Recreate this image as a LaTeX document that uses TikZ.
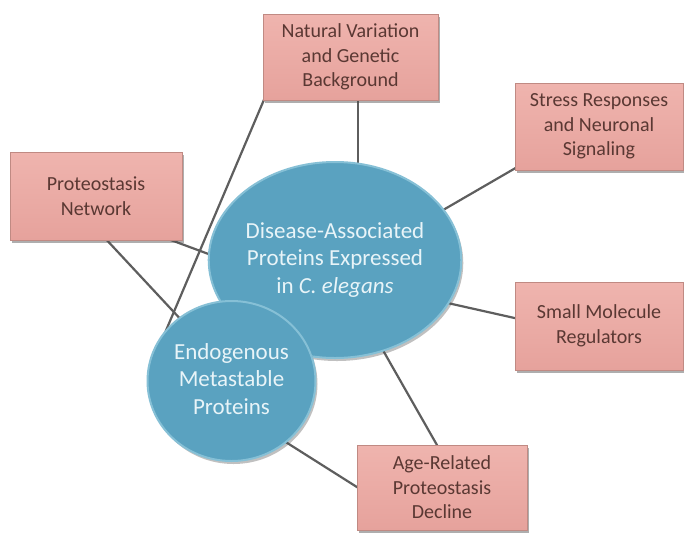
\documentclass[tikz,border=0pt]{standalone}
\usepackage{fontspec}
\setmainfont{Carlito}
\usetikzlibrary{shapes.geometric,shadows,calc,backgrounds}
\definecolor{boxfill}{HTML}{E6A29C}
\definecolor{boxtop}{HTML}{EFB4AE}
\definecolor{boxedge}{HTML}{C08A83}
\definecolor{boxtext}{HTML}{5A3833}
\definecolor{ballfill}{HTML}{5AA2C0}
\definecolor{balledge}{HTML}{86C0D6}
\definecolor{balltext}{HTML}{E8F4F8}
\definecolor{linkcol}{HTML}{5E5E5E}
\newcommand{\mylines}[2]{\raisebox{#1}{\begin{tabular}{@{}c@{}}#2\end{tabular}}}
\begin{document}
\begin{tikzpicture}[x=1pt,y=-1pt,
  box/.style={rectangle, draw=boxedge, line width=1pt, top color=boxtop, bottom color=boxfill,
    text=boxtext, align=center, font=\fontsize{20}{24.5}\selectfont, inner sep=0pt,
    drop shadow={shadow xshift=2pt, shadow yshift=-3pt, opacity=0.45, fill=black!70}},
  ball/.style={ellipse, draw=balledge, line width=2pt, fill=ballfill, text=balltext,
    font=\fontsize{23}{27.5}\selectfont, inner sep=0pt,
    drop shadow={shadow xshift=2pt, shadow yshift=-3pt, opacity=0.35, fill=black!70}},
  link/.style={draw=linkcol, line width=2.2pt}]
\useasboundingbox (0,0) rectangle (684,533);

% circles
\node[ball, minimum width=244pt, minimum height=196pt] (big) at (335,260)
  {\mylines{9pt}{Disease-Associated\\Proteins Expressed\\in \textit{C. elegans}}};
\node[ball, minimum width=168pt, minimum height=160pt] (small) at (231.5,381)
  {\mylines{-6pt}{Endogenous\\Metastable\\Proteins}};

% boxes
\node[box, minimum width=175pt, minimum height=86pt] (nat) at (350.5,57)
  {Natural Variation\\and Genetic\\Background};
\node[box, minimum width=168pt, minimum height=87pt] (stress) at (599,126.5)
  {Stress Responses\\and Neuronal\\Signaling};
\node[box, minimum width=172pt, minimum height=88pt] (prot) at (96,196)
  {Proteostasis\\Network};
\node[box, minimum width=168pt, minimum height=88pt] (smol) at (599,326)
  {Small Molecule\\Regulators};
\node[box, minimum width=170pt, minimum height=85pt] (age) at (442,487.5)
  {Age-Related\\Proteostasis\\Decline};

% connectors
\begin{scope}[on background layer]
\fill[white] (0,0) rectangle (684,533);
\draw[link] ([xshift=7.5pt]nat.south) -- ([xshift=23pt]big.center);
\draw[link] ($(nat.south west)+(2,-2)$) -- ($(small.center)+(-75.5,-27)$);
\draw[link] ($(prot.center)+(7,40)$) -- ($(small.center)+(-46.5,-57)$);
\draw[link] ($(prot.center)+(64,40)$) -- ($(big.center)+(-105,2)$);
\draw[link] ($(stress.center)+(-80,39.5)$) -- ($(big.center)+(95,-42.4)$);
\draw[link] ($(smol.center)+(-80,-7)$) -- ($(big.center)+(97,39.5)$);
\draw[link] ($(age.center)+(-2.4,-37.85)$) -- ($(big.center)+(44.8,84.7)$);
\draw[link] ($(age.center)+(-81.65,1.7)$) -- ($(small.center)+(48.5,57.4)$);
\end{scope}
\end{tikzpicture}
\end{document}
